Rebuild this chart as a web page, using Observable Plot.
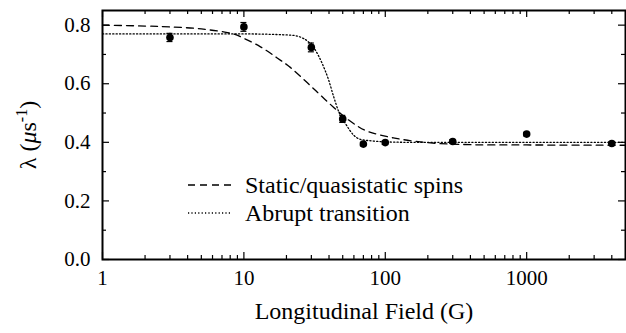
<!DOCTYPE html>
<html><head><meta charset="utf-8">
<script src="https://cdn.jsdelivr.net/npm/d3@7"></script>
<script src="https://cdn.jsdelivr.net/npm/@observablehq/plot@0.6"></script>
<style>
body{margin:0;background:#fff}
</style>
</head><body><div id="chart"></div>
<script>
// Measured data points
const fieldG = [3, 10, 30, 50, 70, 100, 300, 1000, 4000];
const lambda = [0.758, 0.794, 0.724, 0.480, 0.394, 0.399, 0.403, 0.428, 0.396];
const lambdaErr = [0.014, 0.015, 0.015, 0.012, 0.006, 0.006, 0.006, 0.006, 0.006];

// Fit curve: static/quasistatic spins
const staticX = [1, 2, 3, 5, 8.4, 10, 13.1, 17.2, 21.4, 28, 34.8, 43.2, 50.8, 63.3, 74.5, 114, 209, 400, 1000, 5000];
const staticY = [0.800, 0.797, 0.794, 0.787, 0.770, 0.755, 0.726, 0.688, 0.655, 0.604, 0.561, 0.519, 0.489, 0.456, 0.438, 0.415, 0.398, 0.392, 0.391, 0.390];

// Fit curve: abrupt transition
const abruptX = [1, 10, 21.4, 26.5, 32.1, 35.8, 39.8, 43.2, 46.9, 52.3, 59.9, 66.7, 80, 97.5, 150, 5000];
const abruptY = [0.770, 0.770, 0.766, 0.754, 0.714, 0.669, 0.612, 0.555, 0.504, 0.464, 0.424, 0.410, 0.405, 0.402, 0.400, 0.400];

// Ticks and labels
const xMajorTicks = [1, 10, 100, 1000];
const xMinorTicks = [2, 3, 4, 5, 6, 7, 8, 9, 20, 30, 40, 50, 60, 70, 80, 90, 200, 300, 400, 500, 600, 700, 800, 900, 2000, 3000, 4000];
const yMajorTicks = [0, 0.2, 0.4, 0.6, 0.8];
const yMinorTicks = [0.1, 0.3, 0.5, 0.7];
const xTitle = "Longitudinal Field (G)";
const legendLabels = ["Static/quasistatic spins", "Abrupt transition"];

const points = fieldG.map((x, i) => ({x, y: lambda[i], e: lambdaErr[i]}));
const staticCurve = staticX.map((x, i) => ({x, y: staticY[i]}));
const abruptCurve = abruptX.map((x, i) => ({x, y: abruptY[i]}));

const X0 = 1, X1 = 5000, Y0 = 0, Y1 = 0.85;
const W = 626, H = 333;
const FONT = "Liberation Serif, DejaVu Serif, Times New Roman, serif";

const chart = Plot.plot({
  width: W, height: H,
  marginLeft: 102, marginRight: 1, marginTop: 10, marginBottom: 74,
  style: {background: "#fff", color: "#000"},
  x: {type: "log", domain: [X0, X1], axis: null},
  y: {domain: [Y0, Y1], axis: null},
  marks: [
    // curves
    Plot.line(staticCurve, {x: "x", y: "y", stroke: "#000", strokeWidth: 1.3, strokeDasharray: "7,5", curve: "catmull-rom"}),
    Plot.line(abruptCurve, {x: "x", y: "y", stroke: "#000", strokeWidth: 1.3, strokeDasharray: "1.2,2.2", curve: "monotone-x"}),
    // error bars
    Plot.ruleX(points, {x: "x", y1: d => d.y - d.e, y2: d => d.y + d.e, stroke: "#000", strokeWidth: 1.2}),
    Plot.ruleY(points, {y: d => d.y - d.e, x1: "x", x2: "x", insetLeft: -3, insetRight: -3, stroke: "#000", strokeWidth: 1.2}),
    Plot.ruleY(points, {y: d => d.y + d.e, x1: "x", x2: "x", insetLeft: -3, insetRight: -3, stroke: "#000", strokeWidth: 1.2}),
    Plot.dot(points, {x: "x", y: "y", r: 3.8, fill: "#000", stroke: "none"}),
    // bottom ticks (inward)
    Plot.ruleX(xMajorTicks, {x: d => d, y1: Y0, y2: Y0, insetBottom: 7, stroke: "#000", strokeWidth: 1.2}),
    Plot.ruleX(xMinorTicks, {x: d => d, y1: Y0, y2: Y0, insetBottom: 4, stroke: "#000", strokeWidth: 1.2}),
    // top ticks (inward)
    Plot.ruleX(xMajorTicks, {x: d => d, y1: Y1, y2: Y1, insetTop: 7, stroke: "#000", strokeWidth: 1.2}),
    Plot.ruleX(xMinorTicks, {x: d => d, y1: Y1, y2: Y1, insetTop: 4, stroke: "#000", strokeWidth: 1.2}),
    // left ticks
    Plot.ruleY(yMajorTicks, {y: d => d, x1: X0, x2: X0, insetLeft: 7, stroke: "#000", strokeWidth: 1.2}),
    Plot.ruleY(yMinorTicks, {y: d => d, x1: X0, x2: X0, insetLeft: 4, stroke: "#000", strokeWidth: 1.2}),
    // right ticks
    Plot.ruleY(yMajorTicks, {y: d => d, x1: X1, x2: X1, insetRight: 7, stroke: "#000", strokeWidth: 1.2}),
    Plot.ruleY(yMinorTicks, {y: d => d, x1: X1, x2: X1, insetRight: 4, stroke: "#000", strokeWidth: 1.2}),
    Plot.frame({stroke: "#000", strokeWidth: 2}),
    // tick labels
    Plot.text(xMajorTicks, {x: d => d, y: Y0, text: d => String(d), dy: 19, fontSize: 21, fill: "#000"}),
    Plot.text(yMajorTicks, {x: X0, y: d => d, text: d => d.toFixed(1), textAnchor: "end", dx: -12, fontSize: 21, fill: "#000"}),
    // x title
    Plot.text([xTitle], {frameAnchor: "bottom", text: d => d, dy: 59, fontSize: 24, fill: "#000"})
  ]
});

document.getElementById("chart").appendChild(chart);
chart.style.fontFamily = FONT;
chart.querySelectorAll("text").forEach(t => t.setAttribute("font-family", FONT));

// y-axis title with superscript, and legend
const svg = d3.select(chart);
const yl = svg.append("text")
  .attr("transform", "translate(36,135) rotate(-90)")
  .attr("text-anchor", "middle")
  .attr("font-family", FONT)
  .attr("font-size", 24)
  .attr("fill", "#000");
yl.append("tspan").text("λ (");
yl.append("tspan").attr("font-style", "italic").text("μ");
yl.append("tspan").text("s");
yl.append("tspan").attr("font-size", 16).attr("dy", -9).text("-1");
yl.append("tspan").attr("dy", 9).text(")");

const lg = svg.append("g");
const legendStyles = ["7,5", "1.2,2.2"];
const legendY = [185, 213];
legendLabels.forEach((lab, i) => {
  lg.append("line").attr("x1", 188).attr("x2", 232).attr("y1", legendY[i]).attr("y2", legendY[i])
    .attr("stroke", "#000").attr("stroke-width", 1.3).attr("stroke-dasharray", legendStyles[i]);
  lg.append("text").attr("x", 245).attr("y", legendY[i] + 8).attr("text-anchor", "start")
    .attr("font-family", FONT).attr("font-size", 24).attr("fill", "#000").text(lab);
});
</script>
</body></html>
